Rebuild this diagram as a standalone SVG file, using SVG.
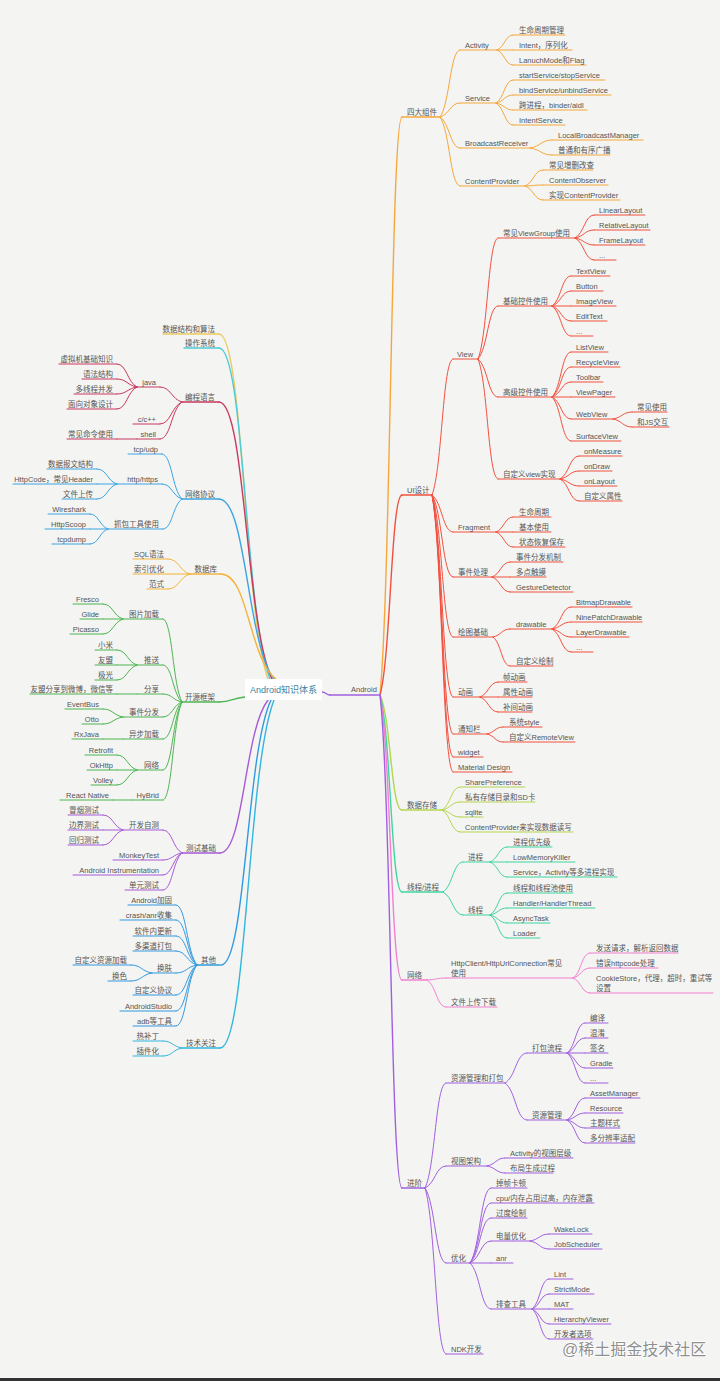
<svg xmlns="http://www.w3.org/2000/svg" width="720" height="1381" viewBox="0 0 720 1381">
<style>
.t{font-family:"Liberation Sans","Noto Sans CJK SC",sans-serif;font-size:7.5px;fill:#555;stroke:none}
.e{text-anchor:end}
path{fill:none;stroke-width:1;stroke-linecap:round}
.w path,path.w{stroke-width:1.4}
.or{stroke:#f6a73b}.rd{stroke:#f2503f}.yg{stroke:#b4d650}.tl{stroke:#3ed6a0}.pk{stroke:#f27fd0}.pu{stroke:#a15fe0}
.ye{stroke:#e9cb5f}.cy{stroke:#4ccbd6}.cr{stroke:#c8395e}.bl{stroke:#3ba5e2}.db{stroke:#f3b43c}.gr{stroke:#4db552}.tp{stroke:#a75ad8}.b2{stroke:#3199e0}.c2{stroke:#31b7df}
</style>
<rect x="0" y="0" width="720" height="1381" fill="#f4f4f2"/>

<g id="connectors">
 <g class="w">
  <path class="pu" d="M322 692C326 692 326 695 330 695"/>
  <path class="or" d="M380 695c11 -115.6 11 -578 22 -578"/>
  <path class="rd" d="M380 695c11 -40 11 -200 22 -200"/>
  <path class="yg" d="M380 695c11 23 11 115 22 115"/>
  <path class="tl" d="M380 695c11 39.4 11 197 22 197"/>
  <path class="pk" d="M380 695c11 57 11 285 22 285"/>
  <path class="pu" d="M380 695c11 98.6 11 493 22 493"/>
  <path class="ye" d="M268 679c-24.5 -69 -24.5 -345 -49 -345"/>
  <path class="cy" d="M270 679c-25.5 -66.2 -25.5 -331 -51 -331"/>
  <path class="cr" d="M272 679c-26.5 -55.4 -26.5 -277 -53 -277"/>
  <path class="bl" d="M274 679c-27.5 -36 -27.5 -180 -55 -180"/>
  <path class="db" d="M276 679c-27.5 -21 -27.5 -105 -55 -105"/>
  <path class="gr" d="M245 697c-13 1 -13 5 -26 5"/>
  <path class="tp" d="M268 700c-24 30.6 -24 153 -48 153"/>
  <path class="b2" d="M271 700c-25 53 -25 265 -50 265"/>
  <path class="c2" d="M274 700c-27 69.6 -27 348 -54 348"/>
 </g>
 <g class="or">
  <path d="M440 117c10 -13.4 10 -67 20 -67"/>
  <path d="M440 117c10 -2.8 10 -14 20 -14"/>
  <path d="M440 117c10 6.2 10 31 20 31"/>
  <path d="M440 117c10 13.8 10 69 20 69"/>
  <path d="M497 50c8 -3 8 -15 16 -15"/>
  <path d="M497 50h16"/>
  <path d="M497 50c8 3 8 15 16 15"/>
  <path d="M496 103c8.5 -4.6 8.5 -23 17 -23"/>
  <path d="M496 103c8.5 -1.6 8.5 -8 17 -8"/>
  <path d="M496 103c8.5 1.4 8.5 7 17 7"/>
  <path d="M496 103c8.5 4.4 8.5 22 17 22"/>
  <path d="M530 148c11 -1.6 11 -8 22 -8"/>
  <path d="M530 148c11 1.4 11 7 22 7"/>
  <path d="M525 186c9 -3.2 9 -16 18 -16"/>
  <path d="M525 186c9 -0.2 9 -1 18 -1"/>
  <path d="M525 186c9 2.8 9 14 18 14"/>
 </g>
 <g class="rd">
  <path d="M432 495c10.5 -27.2 10.5 -136 21 -136"/>
  <path d="M432 495c10.5 7.4 10.5 37 21 37"/>
  <path d="M432 495c10.5 16.4 10.5 82 21 82"/>
  <path d="M432 495c10.5 28.4 10.5 142 21 142"/>
  <path d="M432 495c10.5 40.4 10.5 202 21 202"/>
  <path d="M432 495c10.5 47.8 10.5 239 21 239"/>
  <path d="M432 495c10.5 52.4 10.5 262 21 262"/>
  <path d="M432 495c10.5 55.4 10.5 277 21 277"/>
  <path d="M478 359c10 -24.2 10 -121 20 -121"/>
  <path d="M478 359c10 -10.6 10 -53 20 -53"/>
  <path d="M478 359c10 7.6 10 38 20 38"/>
  <path d="M478 359c10 24 10 120 20 120"/>
  <path d="M575 238c9.5 -4.6 9.5 -23 19 -23"/>
  <path d="M575 238c9.5 -1.6 9.5 -8 19 -8"/>
  <path d="M575 238c9.5 1.4 9.5 7 19 7"/>
  <path d="M575 238c9.5 4.4 9.5 22 19 22"/>
  <path d="M552 306c9.5 -6 9.5 -30 19 -30"/>
  <path d="M552 306c9.5 -3 9.5 -15 19 -15"/>
  <path d="M552 306h19"/>
  <path d="M552 306c9.5 3 9.5 15 19 15"/>
  <path d="M552 306c9.5 6 9.5 30 19 30"/>
  <path d="M552 397c9.5 -9 9.5 -45 19 -45"/>
  <path d="M552 397c9.5 -6 9.5 -30 19 -30"/>
  <path d="M552 397c9.5 -3 9.5 -15 19 -15"/>
  <path d="M552 397h19"/>
  <path d="M552 397c9.5 4.4 9.5 22 19 22"/>
  <path d="M552 397c9.5 8.8 9.5 44 19 44"/>
  <path d="M613 419c9.5 -1.4 9.5 -7 19 -7"/>
  <path d="M613 419c9.5 1.6 9.5 8 19 8"/>
  <path d="M560 479c9.5 -4.6 9.5 -23 19 -23"/>
  <path d="M560 479c9.5 -1.6 9.5 -8 19 -8"/>
  <path d="M560 479c9.5 1.4 9.5 7 19 7"/>
  <path d="M560 479c9.5 4.4 9.5 22 19 22"/>
  <path d="M496 532c8.5 -3 8.5 -15 17 -15"/>
  <path d="M496 532h17"/>
  <path d="M496 532c8.5 3 8.5 15 17 15"/>
  <path d="M492 577c9 -3 9 -15 18 -15"/>
  <path d="M492 577h18"/>
  <path d="M492 577c9 3 9 15 18 15"/>
  <path d="M493 637c8.5 -1.6 8.5 -8 17 -8"/>
  <path d="M493 637c8.5 5.8 8.5 29 17 29"/>
  <path d="M552 629c9.5 -4.4 9.5 -22 19 -22"/>
  <path d="M552 629c9.5 -1.4 9.5 -7 19 -7"/>
  <path d="M552 629c9.5 1.6 9.5 8 19 8"/>
  <path d="M552 629c9.5 4.6 9.5 23 19 23"/>
  <path d="M480 697c9 -3 9 -15 18 -15"/>
  <path d="M480 697h18"/>
  <path d="M480 697c9 3 9 15 18 15"/>
  <path d="M487 734c8 -1.4 8 -7 16 -7"/>
  <path d="M487 734c8 1.6 8 8 16 8"/>
 </g>
 <g class="yg">
  <path d="M442 810c9 -4.6 9 -23 18 -23"/>
  <path d="M442 810c9 -1.6 9 -8 18 -8"/>
  <path d="M442 810c9 1.4 9 7 18 7"/>
  <path d="M442 810c9 4.4 9 22 18 22"/>
 </g>
 <g class="tl">
  <path d="M443 892c10 -6 10 -30 20 -30"/>
  <path d="M443 892c10 4.6 10 23 20 23"/>
  <path d="M490 862c8.5 -3 8.5 -15 17 -15"/>
  <path d="M490 862h17"/>
  <path d="M490 862c8.5 3 8.5 15 17 15"/>
  <path d="M490 915c8.5 -4.4 8.5 -22 17 -22"/>
  <path d="M490 915c8.5 -1.4 8.5 -7 17 -7"/>
  <path d="M490 915c8.5 1.6 8.5 8 17 8"/>
  <path d="M490 915c8.5 4.6 8.5 23 17 23"/>
 </g>
 <g class="pk">
  <path d="M427 980c9.5 -0.4 9.5 -2 19 -2"/>
  <path d="M427 980c9.5 5.4 9.5 27 19 27"/>
  <path d="M573 978c8.5 -5 8.5 -25 17 -25"/>
  <path d="M573 978c8.5 -2 8.5 -10 17 -10"/>
  <path d="M573 978c8.5 3 8.5 15 17 15"/>
 </g>
 <g class="pu">
  <path d="M425 1188c10.5 -21 10.5 -105 21 -105"/>
  <path d="M425 1188c10.5 -4.4 10.5 -22 21 -22"/>
  <path d="M425 1188c10.5 15 10.5 75 21 75"/>
  <path d="M425 1188c10.5 33.2 10.5 166 21 166"/>
  <path d="M505 1083c11 -6 11 -30 22 -30"/>
  <path d="M505 1083c11 7.4 11 37 22 37"/>
  <path d="M567 1053c9 -6 9 -30 18 -30"/>
  <path d="M567 1053c9 -3 9 -15 18 -15"/>
  <path d="M567 1053h18"/>
  <path d="M567 1053c9 3 9 15 18 15"/>
  <path d="M567 1053c9 6 9 30 18 30"/>
  <path d="M567 1120c9 -4.4 9 -22 18 -22"/>
  <path d="M567 1120c9 -1.4 9 -7 18 -7"/>
  <path d="M567 1120c9 1.6 9 8 18 8"/>
  <path d="M567 1120c9 4.6 9 23 18 23"/>
  <path d="M487 1166c9 -1.6 9 -8 18 -8"/>
  <path d="M487 1166c9 1.4 9 7 18 7"/>
  <path d="M470 1263c10.5 -15 10.5 -75 21 -75"/>
  <path d="M470 1263c10.5 -12 10.5 -60 21 -60"/>
  <path d="M470 1263c10.5 -9 10.5 -45 21 -45"/>
  <path d="M470 1263c10.5 -4.4 10.5 -22 21 -22"/>
  <path d="M470 1263h21"/>
  <path d="M470 1263c10.5 9.2 10.5 46 21 46"/>
  <path d="M530 1241c9.5 -1.4 9.5 -7 19 -7"/>
  <path d="M530 1241c9.5 1.6 9.5 8 19 8"/>
  <path d="M532 1309c8.5 -6 8.5 -30 17 -30"/>
  <path d="M532 1309c8.5 -3 8.5 -15 17 -15"/>
  <path d="M532 1309h17"/>
  <path d="M532 1309c8.5 3 8.5 15 17 15"/>
  <path d="M532 1309c8.5 6 8.5 30 17 30"/>
 </g>
 <g class="cr">
  <path d="M182 402c-11 -3 -11 -15 -22 -15"/>
  <path d="M182 402c-11 4.4 -11 22 -22 22"/>
  <path d="M182 402c-11 7.4 -11 37 -22 37"/>
  <path d="M137 387c-10 -4.6 -10 -23 -20 -23"/>
  <path d="M137 387c-10 -1.6 -10 -8 -20 -8"/>
  <path d="M137 387c-10 1.4 -10 7 -20 7"/>
  <path d="M137 387c-10 4.4 -10 22 -20 22"/>
  <path d="M137 439h-20"/>
 </g>
 <g class="bl">
  <path d="M182 499c-10 -9 -10 -45 -20 -45"/>
  <path d="M182 499c-10 -3 -10 -15 -20 -15"/>
  <path d="M182 499c-9.5 6 -9.5 30 -19 30"/>
  <path d="M117 484c-10 -3 -10 -15 -20 -15"/>
  <path d="M117 484h-20"/>
  <path d="M117 484c-10 3 -10 15 -20 15"/>
  <path d="M108 529c-9 -3 -9 -15 -18 -15"/>
  <path d="M108 529h-18"/>
  <path d="M108 529c-9 3 -9 15 -18 15"/>
 </g>
 <g class="db">
  <path d="M190 574c-11 -3 -11 -15 -22 -15"/>
  <path d="M190 574h-22"/>
  <path d="M190 574c-11 3 -11 15 -22 15"/>
 </g>
 <g class="gr">
  <path d="M182 702c-9.5 -16.6 -9.5 -83 -19 -83"/>
  <path d="M182 702c-9.5 -7.4 -9.5 -37 -19 -37"/>
  <path d="M182 702c-9.5 -1.6 -9.5 -8 -19 -8"/>
  <path d="M182 702c-9.5 3 -9.5 15 -19 15"/>
  <path d="M182 702c-9.5 7.4 -9.5 37 -19 37"/>
  <path d="M182 702c-9.5 13.6 -9.5 68 -19 68"/>
  <path d="M182 702c-9.5 19.6 -9.5 98 -19 98"/>
  <path d="M123 619c-10 -3 -10 -15 -20 -15"/>
  <path d="M123 619h-20"/>
  <path d="M123 619c-10 3 -10 15 -20 15"/>
  <path d="M137 665c-10 -3 -10 -15 -20 -15"/>
  <path d="M137 665h-20"/>
  <path d="M137 665c-10 3 -10 15 -20 15"/>
  <path d="M137 694h-20"/>
  <path d="M123 717c-10 -1.6 -10 -8 -20 -8"/>
  <path d="M123 717c-10 1.4 -10 7 -20 7"/>
  <path d="M123 739h-20"/>
  <path d="M137 770c-10 -3 -10 -15 -20 -15"/>
  <path d="M137 770h-20"/>
  <path d="M137 770c-10 3 -10 15 -20 15"/>
  <path d="M133 800h-20"/>
 </g>
 <g class="tp">
  <path d="M182 853c-9.5 -4.6 -9.5 -23 -19 -23"/>
  <path d="M182 853c-9.5 1.4 -9.5 7 -19 7"/>
  <path d="M182 853c-9.5 4.4 -9.5 22 -19 22"/>
  <path d="M182 853c-9.5 7.4 -9.5 37 -19 37"/>
  <path d="M123 830c-10 -3 -10 -15 -20 -15"/>
  <path d="M123 830h-20"/>
  <path d="M123 830c-10 3 -10 15 -20 15"/>
 </g>
 <g class="b2">
  <path d="M197 965c-10.5 -12 -10.5 -60 -21 -60"/>
  <path d="M197 965c-10.5 -9 -10.5 -45 -21 -45"/>
  <path d="M197 965c-10.5 -5.8 -10.5 -29 -21 -29"/>
  <path d="M197 965c-10.5 -2.8 -10.5 -14 -21 -14"/>
  <path d="M197 965c-10.5 1.6 -10.5 8 -21 8"/>
  <path d="M197 965c-10.5 6 -10.5 30 -21 30"/>
  <path d="M197 965c-10.5 9.2 -10.5 46 -21 46"/>
  <path d="M197 965c-10.5 12.2 -10.5 61 -21 61"/>
  <path d="M152 973c-10.5 -1.6 -10.5 -8 -21 -8"/>
  <path d="M152 973c-10.5 1.6 -10.5 8 -21 8"/>
 </g>
 <g class="c2">
  <path d="M182 1048c-9.5 -1.4 -9.5 -7 -19 -7"/>
  <path d="M182 1048c-9.5 1.6 -9.5 8 -19 8"/>
 </g>
</g>

<g id="n-root"><rect x="245" y="679" width="77" height="21" rx="2" fill="#ffffff"/><text x="283.5" y="692.8" text-anchor="middle" style="font-family:'Liberation Sans','Noto Sans CJK SC',sans-serif;font-size:9px;fill:#3b82a0">Android知识体系</text></g>
<g id="n-android" class="pu"><path class="w" d="M330 695H380"/><text class="t" x="351" y="692">Android</text></g>

<g class="or">
<g id="n-four"><path class="w" d="M402 117H440"/><text class="t" x="407" y="114.5">四大组件</text></g>
<g id="n-activity"><path d="M460 50H497"/><text class="t" x="465" y="47.5">Activity</text></g>
<g id="n-lifecycle-mgmt"><path d="M513 35H565"/><text class="t" x="519" y="32.5">生命周期管理</text></g>
<g id="n-intent"><path d="M513 50H572"/><text class="t" x="519" y="47.5">Intent，序列化</text></g>
<g id="n-launchmode"><path d="M513 65H586"/><text class="t" x="519" y="62.5">LanuchMode和Flag</text></g>
<g id="n-service"><path d="M460 103H496"/><text class="t" x="465" y="100.5">Service</text></g>
<g id="n-startservice"><path d="M513 80H605"/><text class="t" x="519" y="77.5">startService/stopService</text></g>
<g id="n-bindservice"><path d="M513 95H611"/><text class="t" x="519" y="92.5">bindService/unbindService</text></g>
<g id="n-ipc"><path d="M513 110H587"/><text class="t" x="519" y="107.5">跨进程，binder/aidl</text></g>
<g id="n-intentservice"><path d="M513 125H565"/><text class="t" x="519" y="122.5">IntentService</text></g>
<g id="n-broadcast"><path d="M460 148H530"/><text class="t" x="465" y="145.5">BroadcastReceiver</text></g>
<g id="n-localbroadcast"><path d="M552 140H643"/><text class="t" x="558" y="137.5">LocalBroadcastManager</text></g>
<g id="n-ordered"><path d="M552 155H610"/><text class="t" x="558" y="152.5">普通和有序广播</text></g>
<g id="n-cp"><path d="M460 186H525"/><text class="t" x="465" y="183.5">ContentProvider</text></g>
<g id="n-crud"><path d="M543 170H593"/><text class="t" x="549" y="167.5">常见增删改查</text></g>
<g id="n-observer"><path d="M543 185H608"/><text class="t" x="549" y="182.5">ContentObserver</text></g>
<g id="n-impl-cp"><path d="M543 200H620"/><text class="t" x="549" y="197.5">实现ContentProvider</text></g>
</g>

<g class="rd">
<g id="n-ui"><path class="w" d="M402 495H432"/><text class="t" x="407" y="492.5">UI设计</text></g>
<g id="n-view"><path d="M453 359H478"/><text class="t" x="457" y="356.5">View</text></g>
<g id="n-viewgroup"><path d="M498 238H575"/><text class="t" x="503" y="235.5">常见ViewGroup使用</text></g>
<g id="n-linear"><path d="M594 215H645"/><text class="t" x="599" y="212.5">LinearLayout</text></g>
<g id="n-relative"><path d="M594 230H650"/><text class="t" x="599" y="227.5">RelativeLayout</text></g>
<g id="n-framelayout"><path d="M594 245H645"/><text class="t" x="599" y="242.5">FrameLayout</text></g>
<g id="n-vg-more"><path d="M594 260H616"/><text class="t" x="599" y="257.5">...</text></g>
<g id="n-basic"><path d="M498 306H552"/><text class="t" x="503" y="303.5">基础控件使用</text></g>
<g id="n-textview"><path d="M571 276H610"/><text class="t" x="576" y="273.5">TextView</text></g>
<g id="n-button"><path d="M571 291H603"/><text class="t" x="576" y="288.5">Button</text></g>
<g id="n-imageview"><path d="M571 306H616"/><text class="t" x="576" y="303.5">ImageView</text></g>
<g id="n-edittext"><path d="M571 321H607"/><text class="t" x="576" y="318.5">EditText</text></g>
<g id="n-basic-more"><path d="M571 336H593"/><text class="t" x="576" y="333.5">...</text></g>
<g id="n-advanced"><path d="M498 397H552"/><text class="t" x="503" y="394.5">高级控件使用</text></g>
<g id="n-listview"><path d="M571 352H608"/><text class="t" x="576" y="349.5">ListView</text></g>
<g id="n-recycleview"><path d="M571 367H620"/><text class="t" x="576" y="364.5">RecycleView</text></g>
<g id="n-toolbar"><path d="M571 382H603"/><text class="t" x="576" y="379.5">Toolbar</text></g>
<g id="n-viewpager"><path d="M571 397H615"/><text class="t" x="576" y="394.5">ViewPager</text></g>
<g id="n-webview"><path d="M571 419H613"/><text class="t" x="576" y="416.5">WebView</text></g>
<g id="n-web-common"><path d="M632 412H667"/><text class="t" x="637" y="409.5">常见使用</text></g>
<g id="n-web-js"><path d="M632 427H669"/><text class="t" x="637" y="424.5">和JS交互</text></g>
<g id="n-surfaceview"><path d="M571 441H621"/><text class="t" x="576" y="438.5">SurfaceView</text></g>
<g id="n-customview"><path d="M498 479H560"/><text class="t" x="503" y="476.5">自定义view实现</text></g>
<g id="n-onmeasure"><path d="M579 456H622"/><text class="t" x="584" y="453.5">onMeasure</text></g>
<g id="n-ondraw"><path d="M579 471H612"/><text class="t" x="584" y="468.5">onDraw</text></g>
<g id="n-onlayout"><path d="M579 486H617"/><text class="t" x="584" y="483.5">onLayout</text></g>
<g id="n-custom-attr"><path d="M579 501H622"/><text class="t" x="584" y="498.5">自定义属性</text></g>
<g id="n-fragment"><path d="M453 532H496"/><text class="t" x="458" y="529.5">Fragment</text></g>
<g id="n-frag-life"><path d="M513 517H551"/><text class="t" x="519" y="514.5">生命周期</text></g>
<g id="n-frag-basic"><path d="M513 532H551"/><text class="t" x="519" y="529.5">基本使用</text></g>
<g id="n-frag-state"><path d="M513 547H565"/><text class="t" x="519" y="544.5">状态恢复保存</text></g>
<g id="n-event"><path d="M453 577H492"/><text class="t" x="458" y="574.5">事件处理</text></g>
<g id="n-dispatch"><path d="M510 562H563"/><text class="t" x="516" y="559.5">事件分发机制</text></g>
<g id="n-multitouch"><path d="M510 577H546"/><text class="t" x="516" y="574.5">多点触摸</text></g>
<g id="n-gesture"><path d="M510 592H573"/><text class="t" x="516" y="589.5">GestureDetector</text></g>
<g id="n-drawing"><path d="M453 637H493"/><text class="t" x="458" y="634.5">绘图基础</text></g>
<g id="n-drawable"><path d="M510 629H552"/><text class="t" x="516" y="626.5">drawable</text></g>
<g id="n-bitmapd"><path d="M571 607H632"/><text class="t" x="576" y="604.5">BitmapDrawable</text></g>
<g id="n-ninepatch"><path d="M571 622H642"/><text class="t" x="576" y="619.5">NinePatchDrawable</text></g>
<g id="n-layerd"><path d="M571 637H629"/><text class="t" x="576" y="634.5">LayerDrawable</text></g>
<g id="n-draw-more"><path d="M571 652H593"/><text class="t" x="576" y="649.5">...</text></g>
<g id="n-customdraw"><path d="M510 666H553"/><text class="t" x="516" y="663.5">自定义绘制</text></g>
<g id="n-anim"><path d="M453 697H480"/><text class="t" x="458" y="694.5">动画</text></g>
<g id="n-frame-anim"><path d="M498 682H527"/><text class="t" x="503" y="679.5">帧动画</text></g>
<g id="n-prop-anim"><path d="M498 697H532"/><text class="t" x="503" y="694.5">属性动画</text></g>
<g id="n-tween"><path d="M498 712H532"/><text class="t" x="503" y="709.5">补间动画</text></g>
<g id="n-notify"><path d="M453 734H487"/><text class="t" x="458" y="731.5">通知栏</text></g>
<g id="n-sys-style"><path d="M503 727H542"/><text class="t" x="509" y="724.5">系统style</text></g>
<g id="n-remoteview"><path d="M503 742H575"/><text class="t" x="509" y="739.5">自定义RemoteView</text></g>
<g id="n-widget"><path d="M453 757H483"/><text class="t" x="458" y="754.5">widget</text></g>
<g id="n-material"><path d="M453 772H512"/><text class="t" x="458" y="769.5">Material Design</text></g>
</g>

<g class="yg">
<g id="n-storage"><path class="w" d="M402 810H442"/><text class="t" x="407" y="807.5">数据存储</text></g>
<g id="n-sp"><path d="M460 787H525"/><text class="t" x="465" y="784.5">SharePreference</text></g>
<g id="n-private"><path d="M460 802H535"/><text class="t" x="465" y="799.5">私有存储目录和SD卡</text></g>
<g id="n-sqlite"><path d="M460 817H483"/><text class="t" x="465" y="814.5">sqlite</text></g>
<g id="n-cp-rw"><path d="M460 832H573"/><text class="t" x="465" y="829.5">ContentProvider来实现数据读写</text></g>
</g>

<g class="tl">
<g id="n-thread-proc"><path class="w" d="M402 892H443"/><text class="t" x="407" y="889.5">线程/进程</text></g>
<g id="n-process"><path d="M463 862H490"/><text class="t" x="468" y="859.5">进程</text></g>
<g id="n-priority"><path d="M507 847H552"/><text class="t" x="513" y="844.5">进程优先级</text></g>
<g id="n-lmk"><path d="M507 862H575"/><text class="t" x="513" y="859.5">LowMemoryKiller</text></g>
<g id="n-multiproc"><path d="M507 877H617"/><text class="t" x="513" y="874.5">Service，Activity等多进程实现</text></g>
<g id="n-thread"><path d="M463 915H490"/><text class="t" x="468" y="912.5">线程</text></g>
<g id="n-threadpool"><path d="M507 893H573"/><text class="t" x="513" y="890.5">线程和线程池使用</text></g>
<g id="n-handler"><path d="M507 908H595"/><text class="t" x="513" y="905.5">Handler/HandlerThread</text></g>
<g id="n-asynctask"><path d="M507 923H550"/><text class="t" x="513" y="920.5">AsyncTask</text></g>
<g id="n-loader"><path d="M507 938H540"/><text class="t" x="513" y="935.5">Loader</text></g>
</g>

<g class="pk">
<g id="n-network"><path class="w" d="M402 980H427"/><text class="t" x="407" y="977.5">网络</text></g>
<g id="n-httpclient"><path d="M446 978H573"/><text class="t" x="451" y="966">HttpClient/HttpUrlConnection常见</text><text class="t" x="451" y="976">使用</text></g>
<g id="n-send"><path d="M590 953H678"/><text class="t" x="596" y="950.5">发送请求，解析返回数据</text></g>
<g id="n-errcode"><path d="M590 968H658"/><text class="t" x="596" y="965.5">错误httpcode处理</text></g>
<g id="n-cookie"><path d="M590 993H713"/><text class="t" x="596" y="981">CookieStore，代理，超时，重试等</text><text class="t" x="596" y="991">设置</text></g>
<g id="n-upload"><path d="M446 1007H497"/><text class="t" x="451" y="1004.5">文件上传下载</text></g>
</g>

<g class="pu">
<g id="n-advanced-topics"><path class="w" d="M402 1188H425"/><text class="t" x="407" y="1185.5">进阶</text></g>
<g id="n-res-pack"><path d="M446 1083H505"/><text class="t" x="451" y="1080.5">资源管理和打包</text></g>
<g id="n-pack-flow"><path d="M527 1053H567"/><text class="t" x="532" y="1050.5">打包流程</text></g>
<g id="n-compile"><path d="M585 1023H608"/><text class="t" x="590" y="1020.5">编译</text></g>
<g id="n-obfuscate"><path d="M585 1038H608"/><text class="t" x="590" y="1035.5">混淆</text></g>
<g id="n-sign"><path d="M585 1053H608"/><text class="t" x="590" y="1050.5">签名</text></g>
<g id="n-gradle"><path d="M585 1068H613"/><text class="t" x="590" y="1065.5">Gradle</text></g>
<g id="n-pack-more"><path d="M585 1083H608"/><text class="t" x="590" y="1080.5">...</text></g>
<g id="n-res-mgmt"><path d="M527 1120H567"/><text class="t" x="532" y="1117.5">资源管理</text></g>
<g id="n-asset"><path d="M585 1098H640"/><text class="t" x="590" y="1095.5">AssetManager</text></g>
<g id="n-resource"><path d="M585 1113H623"/><text class="t" x="590" y="1110.5">Resource</text></g>
<g id="n-theme"><path d="M585 1128H620"/><text class="t" x="590" y="1125.5">主题样式</text></g>
<g id="n-multires"><path d="M585 1143H635"/><text class="t" x="590" y="1140.5">多分辨率适配</text></g>
<g id="n-view-arch"><path d="M446 1166H487"/><text class="t" x="451" y="1163.5">视图架构</text></g>
<g id="n-act-hier"><path d="M505 1158H573"/><text class="t" x="510" y="1155.5">Activity的视图层级</text></g>
<g id="n-layout-gen"><path d="M505 1173H553"/><text class="t" x="510" y="1170.5">布局生成过程</text></g>
<g id="n-optimize"><path d="M446 1263H470"/><text class="t" x="451" y="1260.5">优化</text></g>
<g id="n-jank"><path d="M491 1188H527"/><text class="t" x="496" y="1185.5">掉帧卡顿</text></g>
<g id="n-cpu-mem"><path d="M491 1203H594"/><text class="t" x="496" y="1200.5">cpu/内存占用过高，内存泄露</text></g>
<g id="n-overdraw"><path d="M491 1218H527"/><text class="t" x="496" y="1215.5">过度绘制</text></g>
<g id="n-battery"><path d="M491 1241H530"/><text class="t" x="496" y="1238.5">电量优化</text></g>
<g id="n-wakelock"><path d="M549 1234H592"/><text class="t" x="554" y="1231.5">WakeLock</text></g>
<g id="n-jobscheduler"><path d="M549 1249H602"/><text class="t" x="554" y="1246.5">JobScheduler</text></g>
<g id="n-anr"><path d="M491 1263H513"/><text class="t" x="496" y="1260.5">anr</text></g>
<g id="n-tools"><path d="M491 1309H532"/><text class="t" x="496" y="1306.5">排查工具</text></g>
<g id="n-lint"><path d="M549 1279H573"/><text class="t" x="554" y="1276.5">Lint</text></g>
<g id="n-strictmode"><path d="M549 1294H594"/><text class="t" x="554" y="1291.5">StrictMode</text></g>
<g id="n-mat"><path d="M549 1309H573"/><text class="t" x="554" y="1306.5">MAT</text></g>
<g id="n-hierarchy"><path d="M549 1324H611"/><text class="t" x="554" y="1321.5">HierarchyViewer</text></g>
<g id="n-devopts"><path d="M549 1339H593"/><text class="t" x="554" y="1336.5">开发者选项</text></g>
<g id="n-ndk"><path d="M446 1354H483"/><text class="t" x="451" y="1351.5">NDK开发</text></g>
</g>

<g id="n-dsa" class="ye"><path class="w" d="M163 334H219"/><text class="t e" x="215" y="331.5">数据结构和算法</text></g>
<g id="n-os" class="cy"><path class="w" d="M184 348H219"/><text class="t e" x="215" y="345.5">操作系统</text></g>

<g class="cr">
<g id="n-lang"><path class="w" d="M182 402H219"/><text class="t e" x="215" y="399.5">编程语言</text></g>
<g id="n-java"><path d="M137 387H160"/><text class="t e" x="156" y="384.5">java</text></g>
<g id="n-jvm"><path d="M59 364H117"/><text class="t e" x="113" y="361.5">虚拟机基础知识</text></g>
<g id="n-syntax"><path d="M82 379H117"/><text class="t e" x="113" y="376.5">语法结构</text></g>
<g id="n-concurrency"><path d="M74 394H117"/><text class="t e" x="113" y="391.5">多线程并发</text></g>
<g id="n-oop"><path d="M67 409H117"/><text class="t e" x="113" y="406.5">面向对象设计</text></g>
<g id="n-cpp"><path d="M133 424H160"/><text class="t e" x="156" y="421.5">c/c++</text></g>
<g id="n-shell"><path d="M137 439H160"/><text class="t e" x="156" y="436.5">shell</text></g>
<g id="n-commands"><path d="M67 439H117"/><text class="t e" x="113" y="436.5">常见命令使用</text></g>
</g>

<g class="bl">
<g id="n-protocol"><path class="w" d="M182 499H219"/><text class="t e" x="215" y="496.5">网络协议</text></g>
<g id="n-tcp"><path d="M128 454H162"/><text class="t e" x="158" y="451.5">tcp/udp</text></g>
<g id="n-http"><path d="M117 484H162"/><text class="t e" x="158" y="481.5">http/https</text></g>
<g id="n-packet"><path d="M47 469H97"/><text class="t e" x="93" y="466.5">数据报文结构</text></g>
<g id="n-httpcode"><path d="M13 484H97"/><text class="t e" x="93" y="481.5">HttpCode，常见Header</text></g>
<g id="n-fileupload"><path d="M62 499H97"/><text class="t e" x="93" y="496.5">文件上传</text></g>
<g id="n-capture"><path d="M108 529H163"/><text class="t e" x="159" y="526.5">抓包工具使用</text></g>
<g id="n-wireshark"><path d="M48 514H90"/><text class="t e" x="86" y="511.5">Wireshark</text></g>
<g id="n-httpscoop"><path d="M45 529H90"/><text class="t e" x="86" y="526.5">HttpScoop</text></g>
<g id="n-tcpdump"><path d="M52 544H90"/><text class="t e" x="86" y="541.5">tcpdump</text></g>
</g>

<g class="db">
<g id="n-db"><path class="w" d="M190 574H221"/><text class="t e" x="217" y="571.5">数据库</text></g>
<g id="n-sql"><path d="M133 559H168"/><text class="t e" x="164" y="556.5">SQL语法</text></g>
<g id="n-index"><path d="M133 574H168"/><text class="t e" x="164" y="571.5">索引优化</text></g>
<g id="n-normal"><path d="M147 589H168"/><text class="t e" x="164" y="586.5">范式</text></g>
</g>

<g class="gr">
<g id="n-oss"><path class="w" d="M182 702H219"/><text class="t e" x="215" y="699.5">开源框架</text></g>
<g id="n-imgload"><path d="M123 619H163"/><text class="t e" x="159" y="616.5">图片加载</text></g>
<g id="n-fresco"><path d="M73 604H103"/><text class="t e" x="99" y="601.5">Fresco</text></g>
<g id="n-glide"><path d="M80 619H103"/><text class="t e" x="99" y="616.5">Glide</text></g>
<g id="n-picasso"><path d="M70 634H103"/><text class="t e" x="99" y="631.5">Picasso</text></g>
<g id="n-push"><path d="M137 665H163"/><text class="t e" x="159" y="662.5">推送</text></g>
<g id="n-xiaomi"><path d="M95 650H117"/><text class="t e" x="113" y="647.5">小米</text></g>
<g id="n-umeng"><path d="M95 665H117"/><text class="t e" x="113" y="662.5">友盟</text></g>
<g id="n-jpush"><path d="M95 680H117"/><text class="t e" x="113" y="677.5">极光</text></g>
<g id="n-share"><path d="M137 694H163"/><text class="t e" x="159" y="691.5">分享</text></g>
<g id="n-share-umeng"><path d="M30 694H117"/><text class="t e" x="113" y="691.5">友盟分享到微博，微信等</text></g>
<g id="n-eventdispatch"><path d="M123 717H163"/><text class="t e" x="159" y="714.5">事件分发</text></g>
<g id="n-eventbus"><path d="M65 709H103"/><text class="t e" x="99" y="706.5">EventBus</text></g>
<g id="n-otto"><path d="M82 724H103"/><text class="t e" x="99" y="721.5">Otto</text></g>
<g id="n-async"><path d="M123 739H163"/><text class="t e" x="159" y="736.5">异步加载</text></g>
<g id="n-rxjava"><path d="M72 739H103"/><text class="t e" x="99" y="736.5">RxJava</text></g>
<g id="n-oss-net"><path d="M137 770H163"/><text class="t e" x="159" y="767.5">网络</text></g>
<g id="n-retrofit"><path d="M85 755H117"/><text class="t e" x="113" y="752.5">Retrofit</text></g>
<g id="n-okhttp"><path d="M87 770H117"/><text class="t e" x="113" y="767.5">OkHttp</text></g>
<g id="n-volley"><path d="M91 785H117"/><text class="t e" x="113" y="782.5">Volley</text></g>
<g id="n-hybrid"><path d="M133 800H163"/><text class="t e" x="159" y="797.5">HyBrid</text></g>
<g id="n-rn"><path d="M60 800H113"/><text class="t e" x="109" y="797.5">React Native</text></g>
</g>

<g class="tp">
<g id="n-test"><path class="w" d="M182 853H220"/><text class="t e" x="216" y="850.5">测试基础</text></g>
<g id="n-selftest"><path d="M123 830H163"/><text class="t e" x="159" y="827.5">开发自测</text></g>
<g id="n-smoke"><path d="M68 815H103"/><text class="t e" x="99" y="812.5">冒烟测试</text></g>
<g id="n-boundary"><path d="M68 830H103"/><text class="t e" x="99" y="827.5">边界测试</text></g>
<g id="n-regression"><path d="M68 845H103"/><text class="t e" x="99" y="842.5">回归测试</text></g>
<g id="n-monkey"><path d="M113 860H163"/><text class="t e" x="159" y="857.5">MonkeyTest</text></g>
<g id="n-instrument"><path d="M73 875H163"/><text class="t e" x="159" y="872.5">Android Instrumentation</text></g>
<g id="n-unittest"><path d="M125 890H163"/><text class="t e" x="159" y="887.5">单元测试</text></g>
</g>

<g class="b2">
<g id="n-other"><path class="w" d="M197 965H220"/><text class="t e" x="216" y="962.5">其他</text></g>
<g id="n-harden"><path d="M128 905H176"/><text class="t e" x="172" y="902.5">Android加固</text></g>
<g id="n-crash"><path d="M120 920H176"/><text class="t e" x="172" y="917.5">crash/anr收集</text></g>
<g id="n-update"><path d="M133 936H176"/><text class="t e" x="172" y="933.5">软件内更新</text></g>
<g id="n-channel"><path d="M133 951H176"/><text class="t e" x="172" y="948.5">多渠道打包</text></g>
<g id="n-skin"><path d="M152 973H176"/><text class="t e" x="172" y="970.5">换肤</text></g>
<g id="n-res-load"><path d="M73 965H131"/><text class="t e" x="127" y="962.5">自定义资源加载</text></g>
<g id="n-recolor"><path d="M108 981H131"/><text class="t e" x="127" y="978.5">换色</text></g>
<g id="n-custom-protocol"><path d="M133 995H176"/><text class="t e" x="172" y="992.5">自定义协议</text></g>
<g id="n-studio"><path d="M120 1011H176"/><text class="t e" x="172" y="1008.5">AndroidStudio</text></g>
<g id="n-adb"><path d="M133 1026H176"/><text class="t e" x="172" y="1023.5">adb等工具</text></g>
</g>

<g class="c2">
<g id="n-focus"><path class="w" d="M182 1048H220"/><text class="t e" x="216" y="1045.5">技术关注</text></g>
<g id="n-hotfix"><path d="M133 1041H163"/><text class="t e" x="159" y="1038.5">热补丁</text></g>
<g id="n-plugin"><path d="M133 1056H163"/><text class="t e" x="159" y="1053.5">插件化</text></g>
</g>

<text x="562" y="1355" style="font-family:'Liberation Sans','Noto Sans CJK SC',sans-serif;font-size:16px;fill:#8f8f8f;stroke:#ffffff;stroke-width:1.5px;paint-order:stroke">@稀土掘金技术社区</text>
<rect x="0" y="1378" width="720" height="3" fill="#333333"/>
</svg>
